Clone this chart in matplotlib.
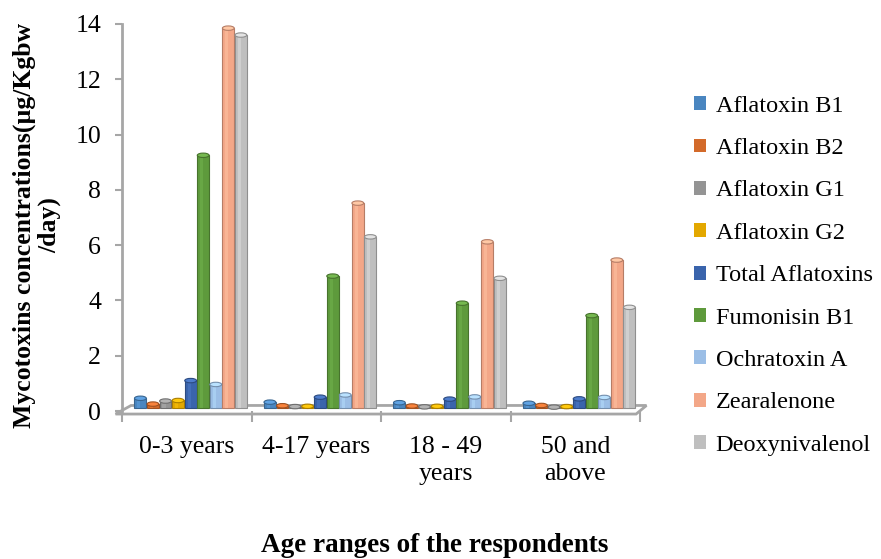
import numpy as np
import matplotlib.pyplot as plt
from matplotlib.patches import Ellipse, Polygon, Patch
import matplotlib.colors as mcolors

# ---- data ----
age_groups = ["0-3 years", "4-17 years", "18 - 49\nyears", "50 and\nabove"]
toxins = ["Aflatoxin B1", "Aflatoxin B2", "Aflatoxin G1", "Aflatoxin G2",
          "Total Aflatoxins", "Fumonisin B1", "Ochratoxin A", "Zearalenone",
          "Deoxynivalenol"]

aflatoxin_b1     = [0.36, 0.22, 0.20, 0.18]
aflatoxin_b2     = [0.15, 0.09, 0.08, 0.10]
aflatoxin_g1     = [0.26, 0.06, 0.05, 0.04]
aflatoxin_g2     = [0.28, 0.07, 0.07, 0.06]
total_aflatoxins = [1.0, 0.40, 0.33, 0.34]
fumonisin_b1     = [9.15, 4.78, 3.8, 3.35]
ochratoxin_a     = [0.86, 0.48, 0.41, 0.39]
zearalenone      = [13.75, 7.42, 6.02, 5.36]
deoxynivalenol   = [13.5, 6.2, 4.7, 3.65]

series = [aflatoxin_b1, aflatoxin_b2, aflatoxin_g1, aflatoxin_g2,
          total_aflatoxins, fumonisin_b1, ochratoxin_a, zearalenone,
          deoxynivalenol]
colors = ['#4A86C0', '#D36A2A', '#949494', '#E3A800', '#3A64AC',
          '#5E9A3C', '#9BBEE6', '#F3A788', '#BFBFBF']

plt.rcParams['font.family'] = ['Liberation Serif', 'DejaVu Serif']

fig = plt.figure(figsize=(8.81, 5.59), dpi=100)
ax = fig.add_axes([122 / 881, 1 - 411 / 559, (640 - 122) / 881, (411 - 24) / 559])

x = np.arange(len(age_groups))
width = 0.097
offsets = (np.arange(len(series)) - (len(series) - 1) / 2) * width + 0.03

# floor of the 3D plot
floor = Polygon([[-0.55, -0.11], [3.47, -0.11], [3.55, 0.2], [-0.43, 0.2]],
                closed=True, facecolor='white', edgecolor='#A6A6A6',
                lw=2, clip_on=False, zorder=1)
ax.add_patch(floor)

for vals, col, off in zip(series, colors, offsets):
    dark = np.array(mcolors.to_rgb(col)) * 0.75
    light = np.clip(np.array(mcolors.to_rgb(col)) * 1.12 + 0.05, 0, 1)
    ax.bar(x + off, vals, width * 0.94, bottom=0.1, color=col,
           edgecolor=dark, linewidth=0.8, zorder=3)
    # highlight strip for a cylinder-ish look
    ax.bar(x + off - width * 0.12, vals, width * 0.25, bottom=0.1,
           color=light, alpha=0.45, linewidth=0, zorder=3.5)
    for xi, v in zip(x + off, vals):
        ax.add_patch(Ellipse((xi, v + 0.1), width * 0.94, 0.16,
                             facecolor=light, edgecolor=dark, lw=0.8,
                             zorder=4))

ax.set_xlim(-0.5, 3.5)
ax.set_ylim(0, 14)
ax.set_yticks(np.arange(0, 15, 2))
ax.set_xticks(x)
ax.set_xticklabels(age_groups, fontsize=18.5, linespacing=1.3)
ax.set_xticks(np.arange(-0.5, 4, 1), minor=True)
ax.tick_params(axis='x', which='major', length=0, pad=18)
ax.tick_params(axis='x', which='minor', length=8, color='#A6A6A6', width=1.5)
ax.tick_params(axis='y', length=5, color='#A6A6A6', width=1.5,
               labelsize=18.5, pad=10)

for s in ['top', 'right', 'bottom']:
    ax.spines[s].set_visible(False)
ax.spines['left'].set_color('#A6A6A6')
ax.spines['left'].set_linewidth(2)
ax.spines['left'].set_bounds(0, 14)

fig.text(37 / 881, 1 - 225 / 559, "Mycotoxins concentrations(µg/Kgbw\n/day)",
         rotation=90, ha='center', va='center', fontsize=18.5,
         fontweight='bold', linespacing=1.1)
fig.text(435 / 881, 1 - 545 / 559, "Age ranges of the respondents",
         ha='center', va='center', fontsize=19.5, fontweight='bold')

handles = [Patch(facecolor=c, edgecolor='none') for c in colors]
fig.legend(handles, toxins, loc='upper left',
           bbox_to_anchor=(684 / 881, 1 - 86 / 559), frameon=False,
           fontsize=17.5, handlelength=0.5, handleheight=0.5,
           handletextpad=0.4, labelspacing=0.88, borderaxespad=0)

plt.savefig('out.png', dpi=100)
